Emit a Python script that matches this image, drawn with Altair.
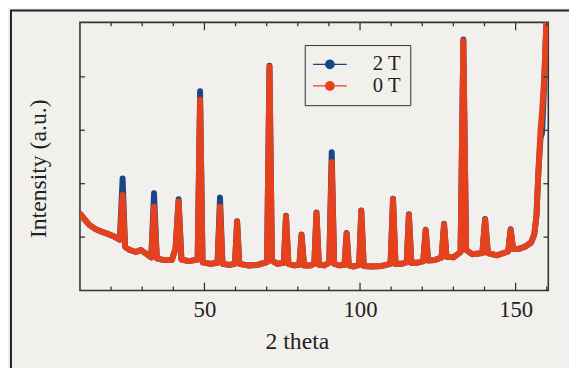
import altair as alt
import pandas as pd

# ---- data ----
two_theta = [10.1, 11.5, 13.0, 15.0, 17.0, 19.0, 21.0, 22.8, 23.7, 24.5, 26.0, 28.0, 29.5, 31.0, 32.9,
             33.8, 34.7, 37.0, 39.5, 40.7, 41.7, 42.6, 45.0, 47.8, 48.6, 49.4, 52.0, 54.2, 55.0, 55.8,
             58.0, 59.8, 60.5, 61.2, 64.0, 67.0, 70.1, 70.9, 71.7, 73.5, 75.5, 76.2, 77.0, 79.0, 80.5,
             81.2, 82.0, 84.0, 85.3, 86.0, 86.8, 88.5, 90.1, 90.9, 91.7, 93.5, 95.0, 95.7, 96.4, 98.0,
             99.7, 100.4, 101.2, 104.0, 107.0, 109.8, 110.6, 111.4, 113.5, 115.0, 115.7, 116.5, 118.5,
             120.3, 121.1, 121.9, 124.0, 126.2, 127.0, 127.8, 130.0, 132.3, 133.2, 134.1, 136.0, 139.3,
             140.2, 141.1, 144.0, 147.6, 148.4, 149.2, 151.0, 153.0, 155.0, 156.0, 156.7, 157.3, 158.0,
             158.5, 159.2, 159.8, 160.3]

intensity_0T = [1.43, 1.33, 1.23, 1.15, 1.10, 1.06, 1.01, 0.95, 1.79, 0.82, 0.76, 0.72, 0.76, 0.70, 0.62,
                1.57, 0.60, 0.57, 0.57, 0.78, 1.67, 0.58, 0.55, 0.58, 3.57, 0.53, 0.50, 0.52, 1.57, 0.50,
                0.48, 0.50, 1.29, 0.50, 0.47, 0.48, 0.53, 4.19, 0.56, 0.50, 0.52, 1.39, 0.50, 0.47, 0.48,
                1.04, 0.47, 0.47, 0.50, 1.45, 0.48, 0.47, 0.52, 2.40, 0.50, 0.47, 0.48, 1.07, 0.47, 0.45,
                0.48, 1.49, 0.46, 0.45, 0.46, 0.50, 1.71, 0.50, 0.50, 0.53, 1.42, 0.52, 0.52,
                0.55, 1.13, 0.56, 0.57, 0.62, 1.24, 0.63, 0.62, 0.72, 4.68, 0.76, 0.68, 0.70,
                1.33, 0.70, 0.66, 0.73, 1.14, 0.78, 0.78, 0.82, 0.90, 1.05, 1.40, 2.20, 3.00,
                3.35, 4.00, 4.90, 5.30]

intensity_2T = [1.43, 1.33, 1.23, 1.15, 1.10, 1.06, 1.01, 0.95, 2.10, 0.82, 0.76, 0.72, 0.76, 0.70, 0.62,
                1.82, 0.60, 0.57, 0.57, 0.78, 1.71, 0.58, 0.55, 0.58, 3.73, 0.53, 0.50, 0.52, 1.74, 0.50,
                0.48, 0.50, 1.30, 0.50, 0.47, 0.48, 0.53, 4.21, 0.56, 0.50, 0.52, 1.40, 0.50, 0.47, 0.48,
                1.05, 0.47, 0.47, 0.50, 1.46, 0.48, 0.47, 0.52, 2.59, 0.50, 0.47, 0.48, 1.08, 0.47, 0.45,
                0.48, 1.50, 0.46, 0.45, 0.46, 0.50, 1.72, 0.50, 0.50, 0.53, 1.43, 0.52, 0.52,
                0.55, 1.14, 0.56, 0.57, 0.62, 1.25, 0.63, 0.62, 0.72, 4.70, 0.76, 0.68, 0.70,
                1.34, 0.70, 0.66, 0.73, 1.15, 0.78, 0.78, 0.82, 0.90, 1.05, 1.40, 2.20, 2.85,
                2.95, 3.90, 4.90, 5.30]

series_names = ["2 T", "0 T"]
series_colors = ["#1b4686", "#e5411c"]

x_major_ticks = [50, 100, 150]
x_minor_ticks = [20, 30, 40, 60, 70, 80, 90, 110, 120, 130, 140, 160]
y_ticks = [1, 2, 3, 4]
x_domain = [10, 160.5]
y_domain = [0, 5.02]

# ---- build ----
W, H = 475, 272
FONT = "Liberation Serif"
AX = "#333333"
BG = "#f2f0ec"

df = pd.concat([
    pd.DataFrame({"two_theta": two_theta, "intensity": intensity_2T, "series": series_names[0]}),
    pd.DataFrame({"two_theta": two_theta, "intensity": intensity_0T, "series": series_names[1]}),
])

xs = alt.Scale(domain=x_domain, nice=False, zero=False)
ys = alt.Scale(domain=y_domain, nice=False, zero=False)
cscale = alt.Scale(domain=series_names, range=series_colors)

xaxis = alt.Axis(values=x_major_ticks, ticks=False, tickSize=0, domain=False, grid=False,
                 labelFont=FONT, labelFontSize=23, labelColor="#222",
                 labelPadding=26, labelBaseline="alphabetic",
                 titleFont=FONT, titleFontSize=24, titleFontWeight="normal",
                 titleColor="#222", titleX=220, titleY=59, titleBaseline="alphabetic")
yaxis = alt.Axis(labels=False, ticks=False, tickSize=0, domain=False, grid=False,
                 titleFont=FONT, titleFontSize=24, titleFontWeight="normal",
                 titleColor="#222", titleX=-35, titleY=148, titleBaseline="alphabetic")
XT = "2 theta"
YT = "Intensity (a.u.)"

sym = ("M-1.9,-0.07L-0.5,-0.07L-0.5,0.07L-1.9,0.07Z"
       "M0.5,-0.07L1.9,-0.07L1.9,0.07L0.5,0.07Z"
       "M-0.55,0A0.55,0.55,0,1,1,0.55,0A0.55,0.55,0,1,1,-0.55,0Z")
legend = alt.Legend(title=None, orient="none", legendX=228, legendY=23,
                    symbolType=sym, symbolSize=324, symbolOffset=6,
                    labelFont=FONT, labelFontSize=21, labelColor="#222", labelOffset=33,
                    rowPadding=0, padding=9, strokeColor=AX, fillColor=BG,
                    symbolStrokeWidth=0, symbolOpacity=1)

base = alt.Chart(df)
X = alt.X("two_theta:Q", scale=xs, title=XT, axis=xaxis)
Y = alt.Y("intensity:Q", scale=ys, title=YT, axis=yaxis)
C = alt.Color("series:N", scale=cscale, legend=legend, title=None)

layers = []
for name in series_names:
    sub = base.transform_filter(alt.datum.series == name)
    layers.append(sub.mark_line(strokeWidth=6, strokeJoin="round", strokeCap="round", clip=True)
                  .encode(x=X, y=Y, color=C))
    layers.append(sub.mark_circle(size=16, opacity=1, clip=True).encode(x=X, y=Y, color=C))

tick_major = alt.Chart(pd.DataFrame({"t": x_major_ticks}))
tick_minor = alt.Chart(pd.DataFrame({"t": x_minor_ticks}))
tick_y = alt.Chart(pd.DataFrame({"t": y_ticks}))

def xtick(src, length, top):
    y0 = 0 if top else H
    y1 = length if top else H - length
    return src.mark_rule(color=AX, strokeWidth=1.3).encode(
        x=alt.X("t:Q", scale=xs, title=XT, axis=xaxis), y=alt.value(y0), y2=alt.value(y1))

def ytick(length, right):
    x0 = W if right else 0
    x1 = W - length if right else length
    return tick_y.mark_rule(color=AX, strokeWidth=1.3).encode(
        y=alt.Y("t:Q", scale=ys, title=YT, axis=yaxis), x=alt.value(x0), x2=alt.value(x1))

layers += [xtick(tick_major, 8, False), xtick(tick_major, 8, True),
           xtick(tick_minor, 4, False), xtick(tick_minor, 4, True),
           ytick(5, False), ytick(5, True)]

frame = alt.Chart(pd.DataFrame({"f": [0]})).mark_rect(
    fillOpacity=0, stroke="#222", strokeWidth=2).encode(
    x=alt.value(-70), x2=alt.value(W + 60), y=alt.value(-12), y2=alt.value(H + 120))
layers.append(frame)

chart = alt.layer(*layers).properties(
    width=W, height=H,
    autosize=alt.AutoSizeParams(type="none"),
    padding={"left": 73, "top": 12, "right": 21, "bottom": 76},
    background=BG,
).configure_view(stroke=AX, strokeWidth=1.6)

chart.save("out.html", embed_options={"renderer": "svg", "actions": False})
